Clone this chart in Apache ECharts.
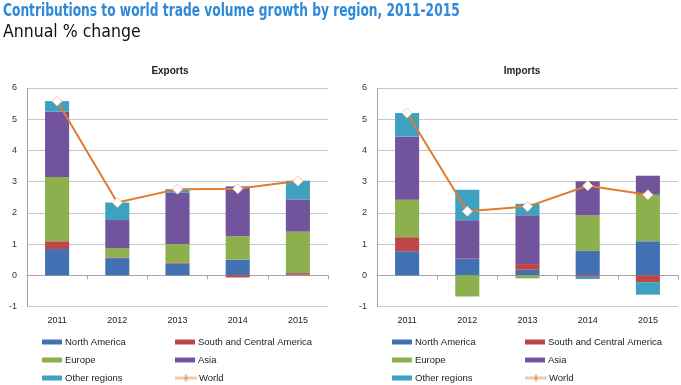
<!DOCTYPE html>
<html><head><meta charset="utf-8">
<script src="https://cdn.jsdelivr.net/npm/echarts@6/dist/echarts.min.js"></script>
<style>html,body{margin:0;padding:0;background:#fff;}#c{width:681px;height:385px;}</style>
</head><body><div id="c"></div>
<script>
const years = ['2011','2012','2013','2014','2015'];
const yTicks = [-1, 0, 1, 2, 3, 4, 5, 6];
const regionNames = ['North America','South and Central America','Europe','Asia','Other regions'];
const worldName = 'World';

// Exports contributions
const expNorthAmerica = [0.84, 0.55, 0.37, 0.50, 0.02];
const expSouthCentral = [0.25, 0.02, 0.03, -0.07, 0.05];
const expEurope       = [2.06, 0.30, 0.60, 0.75, 1.33];
const expAsia         = [2.10, 0.90, 1.64, 1.59, 1.03];
const expOther        = [0.33, 0.56, 0.12, 0.02, 0.60];
const expWorld        = [5.58, 2.33, 2.76, 2.77, 3.02];

// Imports contributions
const impNorthAmerica = [0.77, 0.52, 0.18, 0.78, 1.09];
const impSouthCentral = [0.45, 0.02, 0.18, -0.05, -0.22];
const impEurope       = [1.20, -0.68, -0.10, 1.14, 1.49];
const impAsia         = [2.03, 1.22, 1.56, 1.09, 0.61];
const impOther        = [0.75, 0.98, 0.37, -0.07, -0.40];
const impWorld        = [5.20, 2.05, 2.20, 2.87, 2.58];

const colors = ['#4171B2', '#BE4648', '#8DB04E', '#72549C', '#3DA1BF'];
const worldColor = '#E07B30';

const chart = echarts.init(document.getElementById('c'));

const grids = [
  {left: 27, top: 88, width: 301, height: 218.5},
  {left: 377, top: 88, width: 301, height: 218.5}
];

function yAx(i){
  return {
    type: 'value', gridIndex: i, min: yTicks[0], max: yTicks[yTicks.length-1], interval: 1,
    axisLine: {show: true, lineStyle: {color: '#A6A6A6'}},
    axisTick: {show: false},
    axisLabel: {color: '#333', fontSize: 9, fontFamily: 'Liberation Sans', margin: 10},
    splitLine: {lineStyle: {color: '#C8C8C8', width: 1}}
  };
}
function xAx(i){
  return {
    type: 'category', gridIndex: i, data: years,
    axisLine: {onZero: true, lineStyle: {color: '#A6A6A6'}},
    axisTick: {show: true, length: 4, lineStyle: {color: '#A6A6A6'}},
    axisLabel: {color: '#222', fontSize: 9, fontFamily: 'Liberation Sans', margin: 10}
  };
}

const expSets = [expNorthAmerica, expSouthCentral, expEurope, expAsia, expOther];
const impSets = [impNorthAmerica, impSouthCentral, impEurope, impAsia, impOther];

const series = [];
[[expSets, expWorld], [impSets, impWorld]].forEach(([sets, world], gi) => {
  sets.forEach((d, k) => {
    series.push({
      name: regionNames[k], type: 'bar', stack: 'g' + gi,
      xAxisIndex: gi, yAxisIndex: gi, data: d, barWidth: '40%',
      itemStyle: {color: colors[k]}, animation: false
    });
  });
  series.push({
    name: worldName, type: 'line', xAxisIndex: gi, yAxisIndex: gi, data: world,
    symbol: 'diamond', symbolSize: 10, z: 5,
    lineStyle: {color: worldColor, width: 2},
    itemStyle: {color: '#fff', borderColor: '#F3C9A8', borderWidth: 1},
    animation: false
  });
});

const legendItems = [
  {name: regionNames[0], col: 0, row: 0},
  {name: regionNames[1], col: 1, row: 0},
  {name: regionNames[2], col: 0, row: 1},
  {name: regionNames[3], col: 1, row: 1},
  {name: regionNames[4], col: 0, row: 2},
  {name: worldName, col: 1, row: 2}
];
const legendCols = [[42, 175], [392, 525]];
const rowY = [342, 360, 378];
const legends = [];
legendCols.forEach(cols => {
  legendItems.forEach(it => {
    const isWorld = it.name === worldName;
    legends.push({
      data: [isWorld ? {name: it.name, icon: 'path://M0,2.5L8,2.5L10,0L12,2.5L20,2.5L20,3.5L12,3.5L10,6L8,3.5L0,3.5Z', itemStyle: {color: worldColor}} : {name: it.name, icon: 'rect'}],
      left: cols[it.col], top: rowY[it.row] - 6, padding: 0,
      itemWidth: 20, itemHeight: isWorld ? 6 : 5, itemGap: 0,
      selectedMode: false,
      textStyle: {fontSize: 9.5, color: '#222', fontFamily: 'Liberation Sans', padding: [0,0,0,-2], lineHeight: 12}
    });
  });
});

chart.setOption({
  animation: false,
  graphic: [
    {type: 'text', x: 3, y: 3, scaleX: 0.8, silent: true,
     style: {text: 'Contributions to world trade volume growth by region, 2011-2015',
             fill: '#2E8AD8', font: 'bold 17px "DejaVu Sans Condensed"', textVerticalAlign: 'top'}}
  ],
  title: [
    {text: 'Annual % change', left: 3, top: 23, padding: 0,
     textStyle: {color: '#111', fontSize: 17.5, fontWeight: 'normal', fontFamily: 'DejaVu Sans Condensed'}},
    {text: 'Exports', left: 170, top: 66, padding: 0, textAlign: 'center',
     textStyle: {color: '#222', fontSize: 10, fontWeight: 'bold', fontFamily: 'Liberation Sans'}},
    {text: 'Imports', left: 522, top: 66, padding: 0, textAlign: 'center',
     textStyle: {color: '#222', fontSize: 10, fontWeight: 'bold', fontFamily: 'Liberation Sans'}}
  ],
  grid: grids,
  xAxis: [xAx(0), xAx(1)],
  yAxis: [yAx(0), yAx(1)],
  legend: legends,
  series: series
});
</script></body></html>
